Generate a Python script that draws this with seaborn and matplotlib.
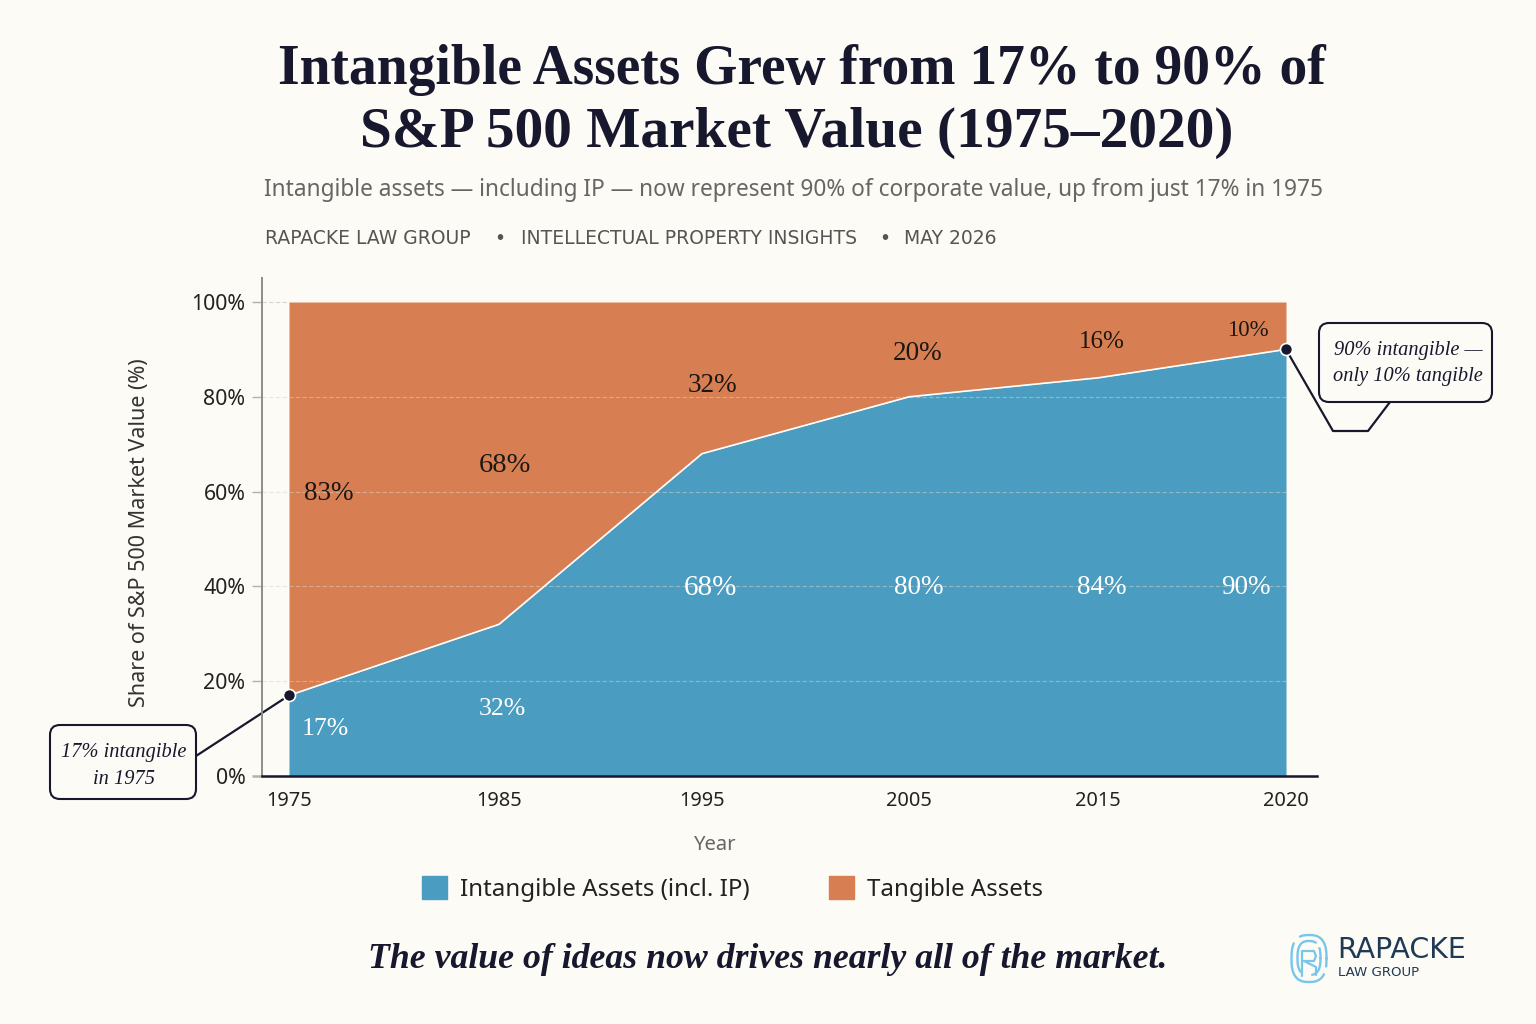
import numpy as np
import pandas as pd
import matplotlib
matplotlib.use("Agg")
import matplotlib.pyplot as plt
from matplotlib.patches import FancyBboxPatch, Patch
import seaborn as sns

# Data
years = [1975, 1985, 1995, 2005, 2015, 2020]
intangible = [17, 32, 68, 80, 84, 90]
tangible = [83, 68, 32, 20, 16, 10]
y_ticks = [0, 20, 40, 60, 80, 100]

# Palette
PAPER = "#FDFBF5"
BLUE = "#4A9DC1"
ORANGE = "#D77F52"
INK = "#17172E"
GREY = "#666666"
LOGO_BLUE = "#78C6EC"
LOGO_NAVY = "#1F3A55"

SANS = "Noto Sans"
SERIF = "Liberation Serif"

sns.set_theme(style="white", rc={"figure.facecolor": PAPER, "savefig.facecolor": PAPER})
plt.rcParams["font.family"] = [SANS, "DejaVu Sans"]

fig = plt.figure(figsize=(15.36, 10.24), dpi=100)

# Full-page layer measured in pixels, for titles, callouts and the logo
page = fig.add_axes([0, 0, 1, 1], zorder=0)
page.set_xlim(0, 1536)
page.set_ylim(1024, 0)
page.axis("off")

# Plot area
L, R, T, B = 262, 1317, 278, 776
ax = fig.add_axes([L / 1536, 1 - B / 1024, (R - L) / 1536, (B - T) / 1024], zorder=1)
ax.patch.set_alpha(0)

# Milestone years sit at hand-spaced stops along the axis
anchor_years = [1965, *years, 2030]
anchor_stops = [76, 289, 499, 702, 909, 1098, 1286, 1500]


def to_stop(v):
    return np.interp(v, anchor_years, anchor_stops)


def to_year(v):
    return np.interp(v, anchor_stops, anchor_years)


ax.set_xscale("function", functions=(to_stop, to_year))
ax.set_xlim(to_year(L), to_year(R))
ax.set_ylim(0, (B - T) / 4.74)

df = pd.DataFrame({"Year": years, "Intangible": intangible, "Tangible": tangible})
ax.fill_between(df["Year"], 0, df["Intangible"], color=BLUE, lw=0, zorder=1)
ax.fill_between(df["Year"], df["Intangible"], 100, color=ORANGE, lw=0, zorder=1)
sns.lineplot(data=df, x="Year", y="Intangible", color="white", lw=1.2, ax=ax, zorder=3)

for tick in y_ticks[1:-1]:
    ax.hlines(tick, to_year(L), 2020, color="#D9D4C8", lw=0.8, ls=(0, (4, 2)), alpha=0.5, zorder=2)
ax.hlines(100, to_year(L), 1975, color="#D9D4C8", lw=0.8, ls=(0, (4, 2)), zorder=2)

# Endpoint markers
ends = df.iloc[[0, -1]]
sns.scatterplot(data=ends, x="Year", y="Intangible", s=75, color=INK, edgecolor="white",
                linewidth=1.2, ax=ax, zorder=5, clip_on=False)

# Axes styling
sns.despine(ax=ax, top=True, right=True)
ax.spines["left"].set_color("#8C8C8C")
ax.spines["left"].set_linewidth(1.4)
ax.spines["bottom"].set_color(INK)
ax.spines["bottom"].set_linewidth(1.8)
ax.set_xticks(years)
ax.set_xticklabels([str(y) for y in years], fontsize=14.4, color="#222222")
ax.set_yticks(y_ticks)
ax.set_yticklabels([f"{t}%" for t in y_ticks], fontsize=15.4, color="#222222")
ax.minorticks_off()
ax.tick_params(axis="x", length=0, pad=11)
ax.tick_params(axis="y", left=True, length=7, width=1, color="#B5B1A8", pad=5)
ax.yaxis.get_ticklines()[0].set_color(INK)
ax.yaxis.get_ticklines()[0].set_markeredgewidth(1.8)
ax.set_xlabel("")
ax.set_ylabel("")
page.text(715, 845, "Year", ha="center", va="center", fontsize=14.6, color=GREY)
page.text(139, 533, "Share of S&P 500 Market Value (%)", rotation=90, ha="center", va="center",
          fontsize=15.5, color="#333333")

# Value labels inside the bands
over = dict(transform=page.transData, ha="center", va="center", family=SERIF, zorder=6)
tangible_spots = [(329, 493), (505, 465), (712, 385), (918, 354), (1102, 342), (1248, 331)]
intangible_spots = [(325, 729), (502, 709), (710, 588), (919, 587), (1102, 587), (1246, 587)]
tangible_sizes = [19.5, 20.5, 19.5, 19.5, 18, 16.5]
intangible_sizes = [18.5, 18.5, 21, 19.5, 19.5, 19.5]
for val, (x, y), size in zip(tangible, tangible_spots, tangible_sizes):
    ax.text(x, y, f"{val}%", fontsize=size, color="#1B1712", **over)
for val, (x, y), size in zip(intangible, intangible_spots, intangible_sizes):
    ax.text(x, y, f"{val}%", fontsize=size, color="white", **over)

# Headline block
page.text(802, 70, "Intangible Assets Grew from 17% to 90% of", ha="center", va="center",
          family=SERIF, weight="bold", fontsize=40, color=INK)
page.text(797, 133, "S&P 500 Market Value (1975–2020)", ha="center", va="center",
          family=SERIF, weight="bold", fontsize=41.3, color=INK)
page.text(793, 190, "Intangible assets — including IP — now represent 90% of corporate value, up from just 17% in 1975",
          ha="center", va="center", fontsize=16.35, color=GREY)
for text, x in [("RAPACKE LAW GROUP", 265), ("•", 494), ("INTELLECTUAL PROPERTY INSIGHTS", 521),
                ("•", 879), ("MAY 2026", 904)]:
    page.text(x, 239, text, ha="left", va="center", family="DejaVu Sans", fontsize=13.5, color="#555555")


# Callouts
def callout(x0, y0, x1, y1):
    page.add_patch(FancyBboxPatch((x0 + 9, y0 + 9), x1 - x0 - 18, y1 - y0 - 18,
                                  boxstyle="round,pad=9,rounding_size=10",
                                  fc=PAPER, ec=INK, lw=1.5, zorder=3))


def data_to_page(x, y):
    px, py = ax.transData.transform((x, y))
    return px, 1024 - py


fig.canvas.draw()
sx, sy = data_to_page(years[0], intangible[0])
ex, ey = data_to_page(years[-1], intangible[-1])

page.plot([196, sx], [756, sy], color=INK, lw=1.6, zorder=2)
callout(50, 725, 196, 799)
page.plot([ex, 1333, 1368, 1390], [ey, 431, 431, 402], color=INK, lw=1.6, zorder=2)
callout(1319, 323, 1492, 402)

note = dict(ha="center", va="center", family=SERIF, style="italic", fontsize=14.7, color=INK, zorder=4)
page.text(124, 752, "17% intangible", **note)
page.text(124, 779, "in 1975", **note)
page.text(1408, 350, "90% intangible —", **note)
page.text(1408, 377, "only 10% tangible", **note)

# Legend
handles = [Patch(color=BLUE), Patch(color=ORANGE)]
ax.legend(handles, ["Intangible Assets (incl. IP)", "Tangible Assets"], ncol=2, frameon=False,
          loc="center", bbox_to_anchor=(732.5, 889), bbox_transform=page.transData,
          prop={"family": SANS, "size": 17.3}, labelcolor="#222222",
          handlelength=1.05, handleheight=1.05, handletextpad=0.55, columnspacing=3.3)

# Closing line
page.text(768, 959, "The value of ideas now drives nearly all of the market.", ha="center", va="center",
          family=SERIF, style="italic", weight="bold", fontsize=25.75, color=INK)


# Logo: a fingerprint-like oval around an R monogram
def ring(cx, cy, rx, ry, gaps, lw=1.7):
    t = np.linspace(0, 2 * np.pi, 240)
    keep = np.ones_like(t, dtype=bool)
    for a, b in gaps:
        keep &= ~((np.degrees(t) >= a) & (np.degrees(t) <= b))
    xs = cx + rx * np.abs(np.cos(t)) ** 0.75 * np.sign(np.cos(t))
    ys = cy + ry * np.abs(np.sin(t)) ** 0.75 * np.sign(np.sin(t))
    xs, ys = xs.astype(float), ys.astype(float)
    xs[~keep] = np.nan
    page.plot(xs, ys, color=LOGO_BLUE, lw=lw, solid_capstyle="round")


ring(1309, 958.5, 17.5, 23.5, [(15, 35), (215, 245)])
ring(1309, 958, 11.5, 17, [(80, 130), (300, 330)])
page.plot([1302, 1302, 1314, 1316, 1314, 1304, 1316, 1316],
          [976, 951, 951, 956, 961, 961, 967, 975], color=LOGO_BLUE, lw=1.6)
page.text(1337, 950, "RAPACKE", ha="left", va="center", family="DejaVu Sans", fontsize=20.5, color=LOGO_NAVY)
page.text(1338, 973, "LAW GROUP", ha="left", va="center", family="DejaVu Sans", fontsize=9.6, color=LOGO_NAVY)

fig.savefig("out.png", dpi=100)
